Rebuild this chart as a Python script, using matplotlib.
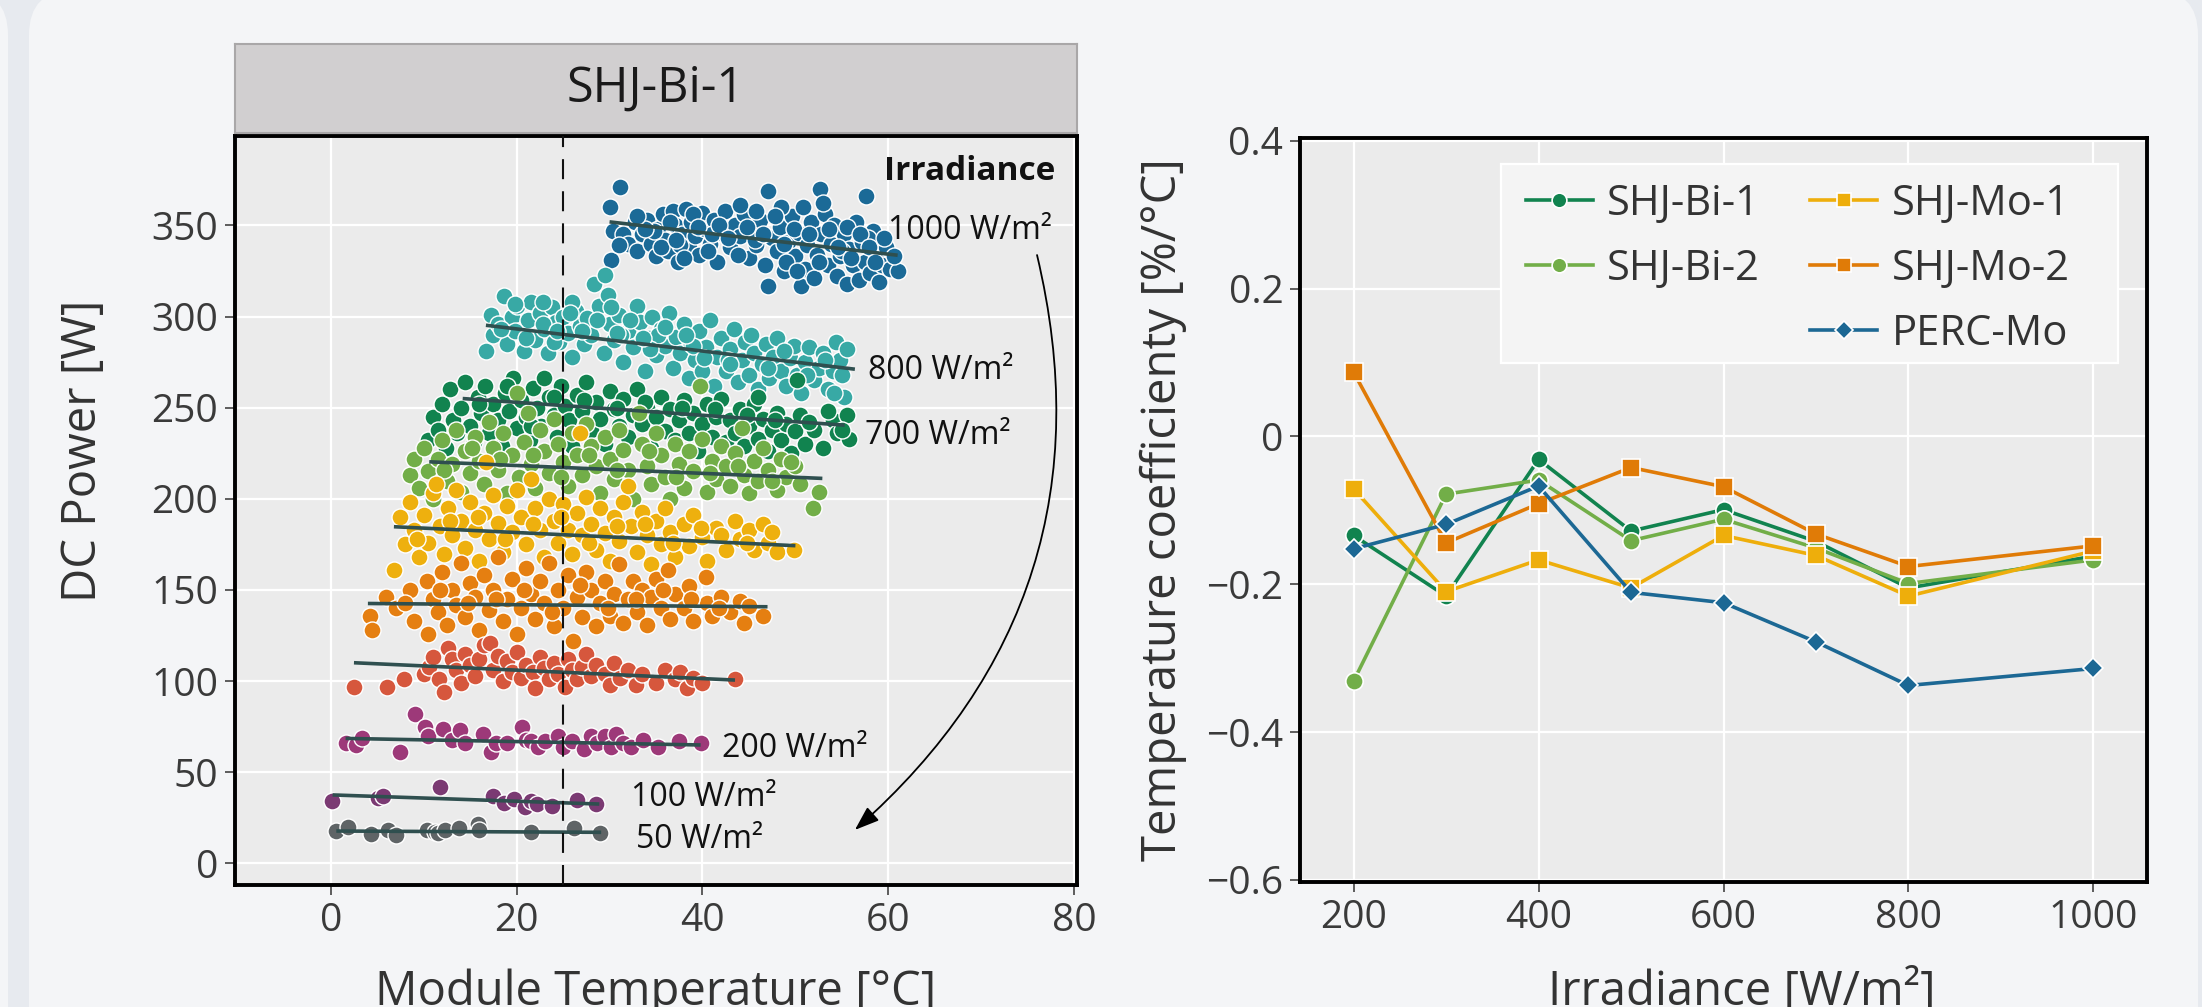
import matplotlib
matplotlib.use("Agg")
import matplotlib.pyplot as plt
from matplotlib.patches import FancyBboxPatch, FancyArrowPatch, Rectangle
from matplotlib.lines import Line2D

plt.rcParams['font.family'] = ['Open Sans', 'DejaVu Sans']

W, H, DPI = 2202, 1007, 100

# ---------------- left panel data: module temperature [°C] vs DC power [W] ----------------
irr_levels = [1000, 800, 700, 600, 500, 400, 300, 200, 100, 50]
irr_colors = ['#1b6a97', '#38a9a5', '#11834f', '#72ae48', '#eeb00e',
              '#e57f11', '#d6573d', '#9d3979', '#7b3a73', '#5f6466']

t_1000 = [30.0, 31.1, 30.4, 30.2, 31.5, 32.7, 32.0, 33.0, 33.5, 34.0, 34.5, 35.0, 35.2, 35.8, 36.0, 36.3, 36.8,
          37.0, 37.4, 37.8, 38.2, 38.5, 38.8, 39.2, 39.6, 40.0, 40.3, 40.8, 41.2, 41.6, 42.0, 42.4,
          43.0, 43.5, 44.0, 44.5, 45.0, 45.3, 45.8, 46.2, 46.7, 47.1, 47.0, 47.5, 48.0, 48.3, 48.8, 49.2,
          49.6, 50.0, 50.4, 50.6, 51.0, 51.3, 51.7, 52.0, 52.3, 52.6, 52.8, 53.2, 53.5, 53.8, 54.2, 54.5,
          54.8, 55.2, 55.5, 55.8, 56.2, 56.5, 56.8, 57.2, 57.6, 57.5, 58.0, 58.3, 58.7, 59.0, 59.3, 59.8,
          60.2, 61.0, 53.0, 48.5, 44.0, 50.8, 34.8, 37.6, 39.0, 41.0, 45.6, 49.0, 55.0, 57.8,
          33.8, 35.5, 36.5, 37.2, 38.0, 39.5, 40.6, 41.8, 42.8, 43.8, 44.8, 45.8, 46.5, 47.8, 48.8,
          49.8, 50.2, 51.5, 52.5, 53.6, 54.6, 55.6, 56.0, 57.0, 57.9, 58.6, 59.5, 60.6, 33.0, 31.0]
p_1000 = [360, 371, 347, 331, 345, 352, 340, 336, 345, 353, 340, 333, 348, 356, 342, 336, 358,
          350, 330, 345, 359, 338, 352, 344, 334, 357, 348, 340, 353, 330, 346, 358,
          338, 350, 344, 356, 332, 347, 339, 353, 328, 369, 317, 343, 336, 349, 325, 341,
          355, 333, 346, 317, 326, 339, 352, 321, 334, 370, 345, 356, 328, 340, 350, 322,
          333, 345, 318, 337, 328, 352, 320, 341, 366, 330, 324, 347, 335, 319, 328, 338,
          326, 325, 362, 360, 361, 360, 347, 339, 356, 345, 342, 330, 336, 343,
          348, 338, 352, 342, 332, 349, 336, 350, 343, 334, 349, 358, 345, 355, 340,
          348, 325, 345, 330, 348, 338, 349, 332, 345, 338, 330, 343, 333, 355, 339]

t_800 = [16.7, 17.2, 17.5, 18.0, 18.6, 19.0, 19.5, 20.0, 20.3, 20.8, 21.2, 21.6, 22.0, 22.5, 23.0, 23.4,
         23.8, 24.2, 24.6, 25.0, 25.5, 26.0, 26.4, 26.8, 27.2, 27.6, 28.0, 28.3, 28.9, 29.5, 29.8, 29.4,
         30.0, 30.5, 31.0, 31.5, 32.0, 32.5, 33.0, 33.3, 33.8, 34.2, 34.6, 35.0, 35.5, 36.0, 36.4, 36.8,
         37.2, 37.6, 38.0, 38.5, 38.8, 39.2, 39.6, 40.0, 40.4, 40.8, 41.2, 41.6, 42.0, 42.5, 43.0, 43.4,
         43.8, 44.2, 44.6, 45.0, 45.5, 46.0, 46.4, 46.8, 47.2, 47.6, 48.0, 48.5, 49.0, 49.4, 49.8, 50.2,
         50.6, 51.0, 51.5, 52.0, 52.5, 53.0, 53.5, 54.0, 54.4, 54.8, 55.2, 55.5, 54.1, 19.8, 22.8, 24.0,
         26.0, 31.2, 35.2, 39.0, 42.8,
         18.3, 19.8, 21.0, 22.8, 24.4, 25.8, 27.0, 28.6, 30.8, 32.2, 34.4, 36.0, 38.2, 40.2, 43.0,
         45.2, 47.0, 48.8, 51.2, 53.2, 55.0, 30.2, 33.6]
p_800 = [281, 301, 290, 296, 311, 285, 300, 306, 292, 281, 298, 308, 287, 302, 293, 280,
         305, 297, 286, 300, 291, 278, 303, 295, 285, 299, 290, 318, 306, 323, 312, 280,
         296, 287, 301, 275, 292, 283, 306, 297, 270, 288, 300, 279, 293, 284, 302, 272,
         289, 280, 296, 266, 285, 276, 292, 270, 283, 298, 262, 278, 288, 270, 282, 293,
         264, 276, 286, 268, 280, 260, 274, 285, 266, 278, 288, 270, 262, 277, 284, 268,
         258, 275, 283, 265, 272, 280, 260, 270, 286, 276, 256, 282, 258, 292, 296, 286,
         308, 290, 290, 284, 276,
         293, 307, 288, 308, 292, 302, 292, 298, 291, 298, 282, 294, 290, 277, 274,
         290, 272, 281, 268, 276, 268, 305, 288]

t_700 = [10.5, 11.0, 11.5, 12.0, 12.4, 12.8, 13.2, 13.6, 14.0, 14.5, 15.0, 15.4, 15.8, 16.2, 16.6, 17.0,
         17.5, 18.0, 18.4, 18.8, 19.2, 19.6, 20.0, 20.5, 21.0, 21.4, 21.8, 22.2, 22.6, 23.0, 23.5, 24.0,
         24.4, 24.8, 25.2, 25.6, 26.0, 26.5, 27.0, 27.5, 28.0, 28.5, 29.0, 29.5, 30.0, 30.5, 31.0, 31.5,
         32.0, 32.5, 33.0, 33.5, 34.0, 34.5, 35.0, 35.5, 36.0, 36.5, 37.0, 37.5, 38.0, 38.5, 39.0, 39.5,
         40.0, 40.5, 41.0, 41.5, 42.0, 42.5, 43.0, 43.5, 44.0, 44.5, 45.0, 45.5, 46.0, 46.5, 47.0, 47.5,
         48.0, 48.5, 49.0, 49.5, 50.0, 50.5, 51.0, 52.0, 53.0, 54.0, 54.5, 55.5, 55.8, 50.2, 46.0,
         16.0, 19.0, 21.5, 24.0, 27.2, 30.8, 33.8, 37.8, 41.3, 44.8, 47.8, 51.5, 53.5, 55.0]
p_700 = [232, 245, 238, 252, 228, 260, 243, 236, 250, 264, 240, 231, 256, 247, 262, 236,
         252, 243, 229, 258, 248, 266, 239, 254, 245, 232, 261, 250, 240, 266, 256, 246,
         234, 262, 251, 243, 229, 257, 248, 264, 238, 253, 244, 230, 259, 249, 240, 255,
         234, 246, 260, 241, 250, 228, 245, 256, 237, 249, 232, 243, 254, 236, 247, 226,
         241, 252, 234, 245, 255, 231, 243, 236, 249, 229, 240, 252, 233, 244, 226, 238,
         247, 232, 241, 225, 237, 246, 230, 238, 228, 243, 236, 246, 233, 265, 256,
         252, 262, 240, 256, 254, 250, 253, 250, 249, 246, 243, 242, 248, 238]

t_600 = [8.5, 9.0, 9.5, 10.0, 10.5, 11.0, 11.5, 12.0, 12.5, 13.0, 13.5, 14.0, 14.5, 15.0, 15.5, 16.0,
         16.5, 17.0, 17.5, 18.0, 18.5, 19.0, 19.5, 20.0, 20.3, 20.8, 21.2, 21.6, 22.0, 22.5, 23.0, 23.5,
         24.0, 24.5, 25.0, 25.5, 26.0, 26.5, 27.0, 27.5, 28.0, 28.5, 29.0, 29.5, 30.0, 30.5, 31.0, 31.5,
         32.0, 32.5, 33.2, 33.5, 34.0, 34.5, 35.0, 35.5, 36.0, 36.5, 37.0, 37.5, 38.0, 38.5, 39.0, 39.7,
         40.0, 40.5, 41.0, 41.5, 42.0, 42.5, 43.0, 43.5, 44.2, 44.5, 45.0, 45.5, 46.0, 46.5, 47.0, 48.0,
         48.5, 49.0, 50.0, 50.5, 51.9, 52.5,
         12.2, 15.2, 18.2, 21.8, 24.8, 27.8, 30.8, 34.2, 37.2, 40.8, 43.8, 47.5, 49.5]
p_600 = [213, 222, 206, 228, 215, 200, 222, 232, 210, 219, 238, 204, 226, 214, 234, 221,
         208, 242, 228, 216, 236, 203, 224, 258, 212, 231, 247, 219, 206, 238, 226, 214,
         244, 230, 220, 207, 236, 224, 213, 241, 229, 218, 203, 234, 222, 211, 238, 227,
         216, 200, 247, 230, 218, 208, 236, 224, 212, 200, 230, 219, 206, 226, 215, 262,
         233, 204, 221, 211, 229, 218, 207, 225, 239, 213, 203, 221, 210, 228, 216, 205,
         222, 212, 218, 208, 195, 204,
         216, 228, 222, 224, 212, 224, 216, 226, 212, 214, 218, 210, 220]

t_500 = [6.8, 7.5, 8.0, 8.5, 9.0, 9.5, 10.0, 10.5, 11.0, 11.3, 11.8, 12.2, 12.6, 13.0, 13.5, 14.0,
         14.5, 15.0, 15.5, 16.0, 16.7, 16.5, 17.0, 17.5, 18.0, 18.5, 19.0, 19.5, 20.0, 20.5, 21.0, 21.5,
         22.0, 22.5, 23.0, 23.5, 24.0, 24.5, 25.0, 25.5, 26.0, 26.8, 26.5, 27.0, 27.5, 28.0, 28.5, 29.0,
         29.5, 30.0, 30.5, 31.0, 31.5, 32.0, 32.3, 33.0, 33.5, 34.0, 34.5, 35.0, 35.5, 36.0, 36.5, 37.0,
         38.0, 38.5, 39.0, 40.0, 40.5, 41.5, 42.5, 43.5, 44.0, 45.0, 45.5, 46.5, 47.0, 48.0, 49.9,
         9.3, 12.8, 15.8, 18.8, 21.8, 24.8, 27.8, 30.8, 33.8, 36.8, 39.8, 42.0, 44.8, 47.5]
p_500 = [161, 190, 175, 198, 183, 168, 191, 176, 203, 208, 185, 170, 195, 180, 205, 188,
         173, 198, 183, 166, 220, 192, 178, 202, 187, 171, 196, 182, 205, 190, 175, 211,
         195, 183, 168, 200, 188, 176, 197, 183, 170, 236, 192, 180, 201, 186, 172, 195,
         181, 166, 190, 177, 198, 207, 185, 171, 193, 180, 164, 188, 175, 195, 182, 168,
         186, 174, 191, 179, 166, 184, 172, 188, 178, 183, 172, 186, 176, 171, 172,
         178, 188, 190, 178, 186, 190, 176, 185, 186, 176, 184, 180, 176, 182]

t_400 = [4.2, 4.4, 6.0, 7.0, 8.5, 9.0, 10.4, 10.5, 11.0, 11.5, 12.0, 12.5, 13.0, 13.5, 14.0, 14.5,
         15.0, 15.5, 16.0, 16.5, 17.0, 17.5, 18.0, 18.5, 19.0, 19.5, 20.0, 20.5, 21.0, 21.5, 22.0, 22.5,
         23.0, 23.5, 24.0, 24.5, 25.0, 25.5, 26.1, 26.5, 27.0, 27.5, 28.0, 28.5, 29.0, 29.5, 30.0, 30.5,
         31.0, 31.5, 32.0, 32.5, 33.0, 33.5, 34.0, 34.5, 35.0, 35.5, 36.3, 36.5, 37.0, 38.0, 38.5, 39.0,
         40.4, 40.5, 41.0, 42.0, 43.0, 44.0, 44.5, 46.5,
         8.0, 11.8, 14.8, 17.8, 20.8, 23.8, 26.8, 29.8, 32.8, 35.8, 38.8, 41.8, 45.0]
p_400 = [136, 128, 146, 140, 150, 133, 155, 126, 145, 138, 160, 131, 150, 142, 165, 135,
         154, 146, 128, 158, 139, 150, 168, 133, 145, 156, 126, 140, 162, 148, 134, 155,
         143, 165, 130, 150, 140, 158, 122, 146, 135, 160, 150, 130, 143, 155, 136, 148,
         164, 132, 145, 155, 138, 150, 131, 146, 156, 140, 161, 134, 148, 140, 152, 133,
         157, 143, 136, 146, 138, 144, 132, 136,
         143, 150, 143, 145, 150, 138, 153, 140, 145, 150, 145, 140, 141]

t_300 = [2.5, 6.1, 7.9, 10.0, 10.6, 11.0, 11.6, 12.2, 12.6, 13.0, 13.5, 14.0, 14.5, 15.0, 15.5, 16.0,
         16.5, 17.1, 17.5, 18.0, 18.5, 19.0, 19.5, 20.0, 20.5, 21.0, 21.8, 22.0, 22.5, 23.0, 23.5, 24.0,
         24.5, 25.2, 25.5, 26.0, 26.5, 27.0, 27.5, 28.0, 28.5, 29.5, 30.0, 30.5, 31.1, 32.0, 32.8, 33.5,
         35.0, 36.0, 37.0, 37.6, 38.3, 39.0, 40.0, 43.5]
p_300 = [97, 97, 101, 104, 108, 113, 101, 94, 118, 112, 106, 99, 115, 109, 103, 112,
         120, 121, 106, 114, 100, 111, 105, 116, 102, 109, 105, 96, 113, 107, 101, 110,
         104, 97, 112, 106, 101, 108, 115, 103, 109, 104, 98, 110, 102, 106, 98, 104,
         99, 106, 101, 105, 96, 102, 99, 101]

t_200 = [1.6, 2.7, 3.4, 7.5, 9.1, 10.1, 10.5, 12.1, 13.0, 13.9, 14.5, 16.4, 17.2, 17.8, 19.0, 20.6,
         21.0, 21.6, 22.3, 23.1, 24.5, 25.0, 26.0, 27.3, 28.0, 28.6, 29.5, 30.2, 30.7, 31.5, 32.3, 33.6,
         35.2, 37.5, 39.8]
p_200 = [66, 65, 69, 61, 82, 75, 70, 74, 68, 73, 66, 71, 61, 66, 66, 75,
         68, 67, 64, 67, 70, 64, 67, 63, 70, 66, 70, 64, 71, 66, 64, 68,
         64, 67, 66]

t_100 = [0.1, 5.1, 5.6, 11.8, 17.5, 18.6, 19.7, 20.9, 21.5, 22.2, 23.8, 26.5, 28.5]
p_100 = [34, 36, 37, 42, 37, 33, 35.5, 31, 34, 32.5, 31.5, 35, 32.6]

t_50 = [0.6, 1.9, 4.3, 6.2, 7.0, 10.4, 11.2, 11.5, 12.3, 13.8, 15.9, 16.0, 21.5, 26.2, 29.0]
p_50 = [17.8, 20, 16, 18.3, 15.6, 18.3, 17, 16.5, 18.6, 19.2, 21.9, 18.3, 17.4, 19.2, 16.8]

group_t = [t_1000, t_800, t_700, t_600, t_500, t_400, t_300, t_200, t_100, t_50]
group_p = [p_1000, p_800, p_700, p_600, p_500, p_400, p_300, p_200, p_100, p_50]

# linear fit segments per irradiance level (start/end temperature and power)
fit_t0 = [30.0, 16.7, 14.2, 10.6, 6.8, 4.0, 2.5, 1.6, 0.2, 0.6]
fit_t1 = [61.0, 56.4, 55.3, 52.9, 50.0, 47.0, 43.5, 39.8, 28.9, 29.1]
fit_p0 = [351.9, 295.2, 255.0, 220.3, 184.7, 142.6, 110.1, 68.6, 37.6, 17.8]
fit_p1 = [333.6, 271.1, 240.4, 211.2, 174.3, 140.8, 100.6, 65.0, 32.6, 17.1]

stc_temperature = 25

# ---------------- right panel data: temperature coefficient vs irradiance ----------------
irradiance = [200, 300, 400, 500, 600, 700, 800, 1000]
tc_shj_bi_1 = [-0.134, -0.216, -0.031, -0.128, -0.099, -0.142, -0.205, -0.162]
tc_shj_bi_2 = [-0.331, -0.078, -0.059, -0.141, -0.112, -0.151, -0.199, -0.167]
tc_shj_mo_1 = [-0.071, -0.210, -0.167, -0.205, -0.134, -0.161, -0.216, -0.155]
tc_shj_mo_2 = [0.087, -0.144, -0.091, -0.042, -0.068, -0.132, -0.176, -0.148]
tc_perc_mo = [-0.152, -0.119, -0.067, -0.211, -0.225, -0.278, -0.337, -0.314]

series_names = ['SHJ-Bi-1', 'SHJ-Bi-2', 'SHJ-Mo-1', 'SHJ-Mo-2', 'PERC-Mo']
series_vals = [tc_shj_bi_1, tc_shj_bi_2, tc_shj_mo_1, tc_shj_mo_2, tc_perc_mo]
series_colors = ['#11834f', '#72ae48', '#eeae0b', '#e07b07', '#1c6894']
series_markers = ['o', 'o', 's', 's', 'D']
series_ms = [12.5, 12.5, 12.5, 12.5, 10.2]

# ---------------- figure ----------------
fig = plt.figure(figsize=(W / DPI, H / DPI), dpi=DPI, facecolor='#e7eaef')

bg = fig.add_axes([0, 0, 1, 1], zorder=-10)
bg.set_xlim(0, W)
bg.set_ylim(H, 0)
bg.axis('off')
bg.add_patch(FancyBboxPatch((-300, -10), 308, 1200, boxstyle='round,pad=0,rounding_size=45',
                            fc='#f4f5f7', ec='none'))
bg.add_patch(FancyBboxPatch((29, -10), 2169, 1200, boxstyle='round,pad=0,rounding_size=45',
                            fc='#f4f5f7', ec='none'))

TXT = '#333333'
TICK = '#3a3a3a'


def style_axes(ax):
    ax.set_facecolor('#ebebeb')
    ax.grid(True, color='white', lw=1.6)
    ax.set_axisbelow(True)
    for s in ax.spines.values():
        s.set_linewidth(2.8)
        s.set_color('black')
    ax.tick_params(length=7, width=1.1, color='#333333', labelsize=28, labelcolor=TICK, pad=5)


# left panel
ax1 = fig.add_axes([235 / W, 1 - 885 / H, (1077 - 235) / W, (885 - 136) / H])
style_axes(ax1)
for tt, pp, col in zip(group_t, group_p, irr_colors):
    ax1.scatter(tt, pp, s=150, c=col, edgecolors='white', linewidths=1.0, zorder=3)
for a, b, c, d in zip(fit_t0, fit_t1, fit_p0, fit_p1):
    ax1.plot([a, b], [c, d], color='#2f4f4f', lw=2.6, solid_capstyle='butt', zorder=4)
ax1.axvline(stc_temperature, color='#111111', lw=1.5, dashes=(9.6, 5.8), zorder=5)
ax1.set_xlim(-10.3, 80.3)
ax1.set_ylim(-11.8, 399)
ax1.set_xticks([0, 20, 40, 60, 80])
ax1.set_yticks([0, 50, 100, 150, 200, 250, 300, 350])

lab_kw = dict(fontsize=23, color='#111111', va='center', ha='left', zorder=6)
ax1.text(78, 379.7, 'Irradiance', fontsize=24, fontweight='bold', color='#111111',
         ha='right', va='center', zorder=6)
ax1.text(60.0, 347.3, '1000 W/m²', **lab_kw)
ax1.text(57.8, 270.6, '800 W/m²', **lab_kw)
ax1.text(57.5, 235.0, '700 W/m²', **lab_kw)
ax1.text(42.1, 63.3, '200 W/m²', **lab_kw)
ax1.text(32.3, 36.0, '100 W/m²', **lab_kw)
ax1.text(32.9, 12.9, '50 W/m²', **lab_kw)
ax1.add_patch(FancyArrowPatch((76, 333.7), (56.4, 18.4), connectionstyle='arc3,rad=-0.3',
                              arrowstyle='-|>,head_length=0.5,head_width=0.18', mutation_scale=30,
                              lw=1.3, color='black', shrinkA=0, shrinkB=0, zorder=6))

# strip header
strip = fig.add_axes([235 / W, 1 - 133 / H, (1077 - 235) / W, (133 - 44) / H])
strip.set_facecolor('#d1cfd0')
strip.set_xticks([])
strip.set_yticks([])
for s in strip.spines.values():
    s.set_color('#a9a7a8')
    s.set_linewidth(1.5)
strip.text(0.5, 0.5, 'SHJ-Bi-1', transform=strip.transAxes, ha='center', va='center',
           fontsize=35, color='#1a1a1a')

fig.text(83 / W, 1 - 451 / H, 'DC Power [W]', rotation=90, ha='center', va='center',
         fontsize=34, color=TXT)
fig.text(656 / W, 1 - 1005 / H, 'Module Temperature [°C]', ha='center', va='baseline',
         fontsize=34, color=TXT)

# right panel
ax2 = fig.add_axes([1300 / W, 1 - 882 / H, (2147 - 1300) / W, (882 - 138) / H])
style_axes(ax2)
handles = []
for name, vals, col, mk, ms in zip(series_names, series_vals, series_colors, series_markers, series_ms):
    h, = ax2.plot(irradiance, vals, color=col, lw=2.6, marker=mk, ms=ms, mfc=col, mec='white',
                  mew=1.2, label=name, zorder=3)
    handles.append(h)
ax2.set_xlim(142, 1058)
ax2.set_ylim(-0.603, 0.404)
ax2.set_xticks([200, 400, 600, 800, 1000])
yt = [-0.6, -0.4, -0.2, 0, 0.2, 0.4]
ax2.set_yticks(yt)
ax2.set_yticklabels(['\u22120.6', '\u22120.4', '\u22120.2', '0', '0.2', '0.4'])

# legend box (drawn in figure pixels) + frameless legend
ax2.add_patch(Rectangle((1501 / W, 1 - 363 / H), (2118 - 1501) / W, (363 - 164) / H,
                        transform=fig.transFigure, fc='#f4f4f4', ec='white', lw=1.6, zorder=7))
blank = Line2D([], [], linestyle='none', marker=None, alpha=0)
leg_handles = [handles[0], handles[1], blank, handles[2], handles[3], handles[4]]
leg_labels = ['SHJ-Bi-1', 'SHJ-Bi-2', ' ', 'SHJ-Mo-1', 'SHJ-Mo-2', 'PERC-Mo']
leg = ax2.legend(leg_handles, leg_labels, ncol=2, loc='upper left',
                 bbox_to_anchor=(1526 / W, 1 - 183 / H), bbox_transform=fig.transFigure,
                 fontsize=30, frameon=False, borderpad=0, labelspacing=0.55, handlelength=1.6,
                 handletextpad=0.35, columnspacing=1.2, markerscale=0.85, borderaxespad=0)
leg.set_zorder(8)
for t in leg.get_texts():
    t.set_color(TXT)

fig.text(1163 / W, 1 - 510 / H, 'Temperature coefficienty [%/°C]', rotation=90, ha='center',
         va='center', fontsize=34, color=TXT)
fig.text(1742 / W, 1 - 1005 / H, 'Irradiance [W/m²]', ha='center', va='baseline',
         fontsize=34, color=TXT)

fig.savefig('out.png', dpi=DPI, facecolor=fig.get_facecolor())
